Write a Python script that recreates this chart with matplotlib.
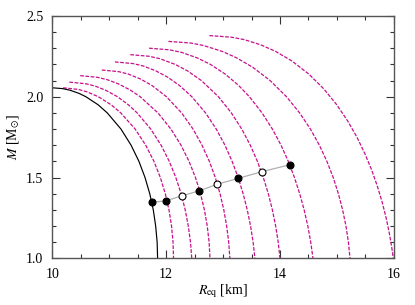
import matplotlib
matplotlib.use("Agg")
import matplotlib.pyplot as plt
from matplotlib.ticker import MultipleLocator

plt.rcParams['font.family'] = ['Liberation Serif', 'DejaVu Serif']
plt.rcParams['mathtext.fontset'] = 'stix'

# static (non-rotating) sequence
r_static = [9.9, 10.0, 10.18, 10.311, 10.473, 10.589, 10.805, 10.965, 11.206, 11.384, 11.522,
            11.629, 11.712, 11.774, 11.816, 11.842, 11.85]
m_static = [2.055, 2.055, 2.05, 2.04, 2.02, 2.0, 1.95, 1.9, 1.8, 1.7, 1.6,
            1.5, 1.4, 1.3, 1.2, 1.1, 1.0]

# rotating sequences (dashed), radius in km and mass in Msun
r_rot1 = [10.19, 10.457, 10.61, 10.808, 11.034, 11.202, 11.455, 11.641, 11.786, 11.898, 11.985, 12.05, 12.095, 12.121, 12.13]
m_rot1 = [2.055, 2.045, 2.03, 2.0, 1.95, 1.9, 1.8, 1.7, 1.6, 1.5, 1.4, 1.3, 1.2, 1.1, 1.0]

r_rot2 = [10.30, 10.591, 10.758, 10.937, 11.144, 11.336, 11.49, 11.729, 11.911, 12.055, 12.17, 12.263, 12.335, 12.389, 12.428, 12.45]
m_rot2 = [2.09, 2.08, 2.065, 2.04, 2.0, 1.95, 1.9, 1.8, 1.7, 1.6, 1.5, 1.4, 1.3, 1.2, 1.1, 1.0]

r_rot3 = [10.49, 10.79, 10.967, 11.157, 11.375, 11.543, 11.855, 12.083, 12.261, 12.402, 12.515, 12.604, 12.672, 12.722, 12.755, 12.77]
m_rot3 = [2.13, 2.12, 2.105, 2.08, 2.04, 2.0, 1.9, 1.8, 1.7, 1.6, 1.5, 1.4, 1.3, 1.2, 1.1, 1.0]

r_rot4 = [10.87, 11.165, 11.334, 11.546, 11.748, 12.005, 12.271, 12.472, 12.63, 12.759, 12.863, 12.947, 13.013, 13.063, 13.099, 13.12]
m_rot4 = [2.165, 2.155, 2.14, 2.11, 2.07, 2.0, 1.9, 1.8, 1.7, 1.6, 1.5, 1.4, 1.3, 1.2, 1.1, 1.0]

r_rot5 = [11.10, 11.415, 11.597, 11.818, 12.031, 12.231, 12.451, 12.692, 12.88, 13.033, 13.159, 13.265, 13.352, 13.425, 13.483, 13.528, 13.56]
m_rot5 = [2.215, 2.205, 2.19, 2.16, 2.12, 2.07, 2.0, 1.9, 1.8, 1.7, 1.6, 1.5, 1.4, 1.3, 1.2, 1.1, 1.0]

r_rot6 = [11.37, 11.70, 11.891, 12.157, 12.374, 12.618, 12.918, 13.145, 13.328, 13.478, 13.603, 13.707, 13.795, 13.866, 13.924, 13.969, 14.0]
m_rot6 = [2.26, 2.25, 2.235, 2.2, 2.16, 2.1, 2.0, 1.9, 1.8, 1.7, 1.6, 1.5, 1.4, 1.3, 1.2, 1.1, 1.0]

r_rot7 = [11.70, 12.057, 12.262, 12.546, 12.777, 13.037, 13.272, 13.462, 13.684, 13.866, 14.018, 14.146, 14.254, 14.346, 14.424, 14.489, 14.54, 14.58]
m_rot7 = [2.30, 2.29, 2.275, 2.24, 2.2, 2.14, 2.07, 2.0, 1.9, 1.8, 1.7, 1.6, 1.5, 1.4, 1.3, 1.2, 1.1, 1.0]

r_rot8 = [12.04, 12.43, 12.653, 12.988, 13.24, 13.529, 13.826, 14.114, 14.344, 14.534, 14.692, 14.824, 14.935, 15.026, 15.10, 15.159, 15.202, 15.23]
m_rot8 = [2.342, 2.332, 2.317, 2.28, 2.24, 2.18, 2.1, 2.0, 1.9, 1.8, 1.7, 1.6, 1.5, 1.4, 1.3, 1.2, 1.1, 1.0]

r_rot9 = [12.76, 13.149, 13.372, 13.668, 13.924, 14.213, 14.506, 14.765, 14.997, 15.189, 15.351, 15.488, 15.607, 15.707, 15.793, 15.865, 15.924, 15.971, 15.99]
m_rot9 = [2.378, 2.368, 2.353, 2.32, 2.28, 2.22, 2.14, 2.05, 1.95, 1.85, 1.75, 1.65, 1.55, 1.45, 1.35, 1.25, 1.15, 1.05, 1.0]

rot_r = [r_rot1, r_rot2, r_rot3, r_rot4, r_rot5, r_rot6, r_rot7, r_rot8, r_rot9]
rot_m = [m_rot1, m_rot2, m_rot3, m_rot4, m_rot5, m_rot6, m_rot7, m_rot8, m_rot9]

# marked configurations (grey connecting line)
pts_r = [11.745, 12.0, 12.27, 12.585, 12.895, 13.27, 13.68, 14.175]
pts_m = [1.346, 1.356, 1.386, 1.418, 1.458, 1.495, 1.536, 1.579]
pts_filled = [True, True, False, True, False, True, False, True]

fig = plt.figure(figsize=(4.15, 3.05), dpi=100)
ax = fig.add_axes([0.126, 0.153, 0.823, 0.795])

for r, m in zip(rot_r, rot_m):
    ax.plot(r, m, color='#c8108c', lw=0.9, dashes=(3.0, 1.2))
ax.plot(r_static, m_static, color='black', lw=0.85)

ax.plot(pts_r, pts_m, color='#b0b0b0', lw=0.9, zorder=3)
for r, m, f in zip(pts_r, pts_m, pts_filled):
    ax.plot(r, m, 'o', ms=5, mec='black', mew=0.8,
            mfc='black' if f else 'white', zorder=4)

ax.set_xlim(10, 16)
ax.set_ylim(1.0, 2.5)
ax.xaxis.set_major_locator(MultipleLocator(2))
ax.xaxis.set_minor_locator(MultipleLocator(0.5))
ax.yaxis.set_major_locator(MultipleLocator(0.5))
ax.yaxis.set_minor_locator(MultipleLocator(0.1))
ax.tick_params(which='both', direction='in', top=True, right=True,
               labelsize=10, color='#333333', width=0.8)
ax.tick_params(which='major', length=6)
ax.tick_params(axis='x', which='major', pad=7)
ax.tick_params(axis='y', which='major', pad=6.5)
ax.tick_params(which='minor', length=3)
for s in ax.spines.values():
    s.set_linewidth(1.0)
    s.set_color('#555555')

ax.set_xlabel(r'$R_{\rm eq}$ [km]', fontsize=10, labelpad=1)
ax.set_ylabel(r'$M$ [M$_{\odot}$]', fontsize=10, labelpad=3)

fig.savefig('out.png', dpi=100)
